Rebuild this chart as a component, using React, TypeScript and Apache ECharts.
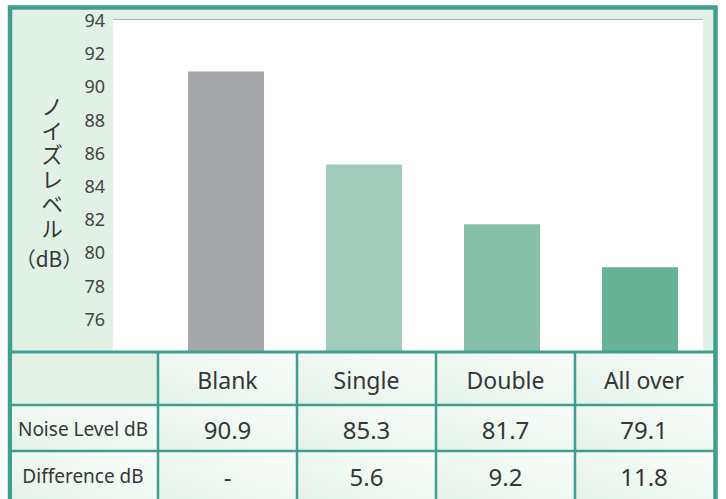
import React, { useEffect, useRef } from "react";
import * as echarts from "echarts";

const categories = ["Blank", "Single", "Double", "All over"];
const noiseLevel = [90.9, 85.3, 81.7, 79.1];
const differenceLabels = ["-", "5.6", "9.2", "11.8"];
const rowHeaders = ["Noise Level dB", "Difference dB"];
const yMin = 74;
const yMax = 94;
const yInterval = 2;
const axisTitle = "ノイズレベル";
const axisUnit = "（dB）";
const barColors = ["#a7a8ac", "#a3cbbb", "#88bfa8", "#68b298"];

const TEAL = "#3e9e8f";
const TEXT = "#363636";

export default function App() {
  const ref = useRef<HTMLDivElement>(null);
  useEffect(() => {
    if (!ref.current) return;
    const chart = echarts.init(ref.current, undefined, { renderer: "svg" });

    // table geometry
    const colX = [12, 158, 297, 436, 575, 713];
    const rowY = [352, 405, 451, 505];
    const cellGrad = {
      type: "linear",
      x: 0, y: 1, x2: 1, y2: 0,
      colorStops: [
        { offset: 0, color: "#e4f2e8" },
        { offset: 1, color: "#fbfdfb" },
      ],
    };
    const table: any[] = [];
    for (let r = 0; r < 3; r++) {
      for (let c = 0; c < 5; c++) {
        table.push({
          type: "rect",
          z: 100,
          shape: { x: colX[c], y: rowY[r], width: colX[c + 1] - colX[c], height: rowY[r + 1] - rowY[r] },
          style: { fill: c === 0 && r === 0 ? "#e3f1e7" : cellGrad },
        });
      }
    }
    rowY.slice(0, 3).forEach((y, i) => {
      table.push({
        type: "line",
        z: 101,
        shape: { x1: 12, y1: y, x2: 714, y2: y },
        style: { stroke: TEAL, lineWidth: i === 0 ? 3 : 2.5 },
      });
    });
    colX.slice(1, 5).forEach((x) => {
      table.push({
        type: "line",
        z: 101,
        shape: { x1: x, y1: 352, x2: x, y2: 505 },
        style: { stroke: TEAL, lineWidth: 2.5 },
      });
    });
    const cellText = (text: string, cx: number, cy: number, size: number) => ({
      type: "text",
      z: 102,
      x: cx,
      y: cy,
      style: {
        text,
        fill: TEXT,
        fontSize: size,
        fontFamily: '"Noto Sans", sans-serif',
        align: "center",
        verticalAlign: "middle",
      },
    });
    categories.forEach((cat, i) => {
      const cx = (colX[i + 1] + colX[i + 2]) / 2;
      table.push(cellText(cat, cx, 380, 23));
      table.push(cellText(noiseLevel[i].toFixed(1), cx, 429, 24));
      table.push(cellText(differenceLabels[i], cx, 476, 24));
    });
    table.push(cellText(rowHeaders[0], 83, 429, 19));
    table.push(cellText(rowHeaders[1], 83, 476, 19));

    const titleChars = axisTitle.split("").map((ch, i) => ({
      type: "text",
      z: 102,
      x: 52,
      y: 105 + i * 24.4,
      style: {
        text: ch,
        fill: TEXT,
        fontSize: 17,
        lineHeight: 20,
        fontFamily: '"Noto Sans CJK JP", sans-serif',
        align: "center",
        verticalAlign: "middle",
      },
      scaleX: 1.25,
      scaleY: 1.25,
    }));

    const option: any = {
      animation: false,
      backgroundColor: "#fff",
      grid: [
        { left: 113, width: 590, top: 20, height: 332, show: true, backgroundColor: "#fff", borderWidth: 0, z: 1 },
        { left: 157, width: 552, top: 20, height: 332, show: false, z: 2 },
      ],
      xAxis: [
        { type: "category", gridIndex: 0, data: categories, show: false },
        { type: "category", gridIndex: 1, data: categories, show: false },
      ],
      yAxis: [
        {
          type: "value",
          gridIndex: 0,
          min: yMin,
          max: yMax,
          interval: yInterval,
          axisLine: { show: false },
          axisTick: { show: false },
          axisLabel: {
            showMinLabel: false,
            color: "#444",
            fontSize: 18,
            fontFamily: '"Noto Sans", sans-serif',
            margin: 8,
          },
          splitLine: { show: true, lineStyle: { color: "#adadb0", width: 2 } },
        },
        { type: "value", gridIndex: 1, min: yMin, max: yMax, interval: yInterval, show: false, splitLine: { show: false } },
      ],
      series: [
        {
          type: "bar",
          xAxisIndex: 1,
          yAxisIndex: 1,
          barWidth: 76,
          z: 3,
          data: noiseLevel.map((v, i) => ({ value: v, itemStyle: { color: barColors[i] } })),
        },
      ],
      graphic: [
        {
          type: "rect",
          z: -10,
          shape: { x: 10, y: 7.5, width: 705.5, height: 510 },
          style: { fill: "#e2f1e6", stroke: TEAL, lineWidth: 4.5 },
        },
        ...table,
        ...titleChars,
        {
          type: "text",
          z: 102,
          x: 49,
          y: 258,
          scaleX: 1.3,
          scaleY: 1.3,
          style: {
            text: axisUnit,
            fill: TEXT,
            fontSize: 16,
            lineHeight: 18,
            fontFamily: '"Noto Sans CJK JP", sans-serif',
            align: "center",
            verticalAlign: "middle",
          },
        },
      ],
    };
    chart.setOption(option);
    return () => chart.dispose();
  }, []);
  return (
    <div
      ref={ref}
      style={{ position: "fixed", left: 0, top: 0, width: 726, height: 499 }}
    />
  );
}
